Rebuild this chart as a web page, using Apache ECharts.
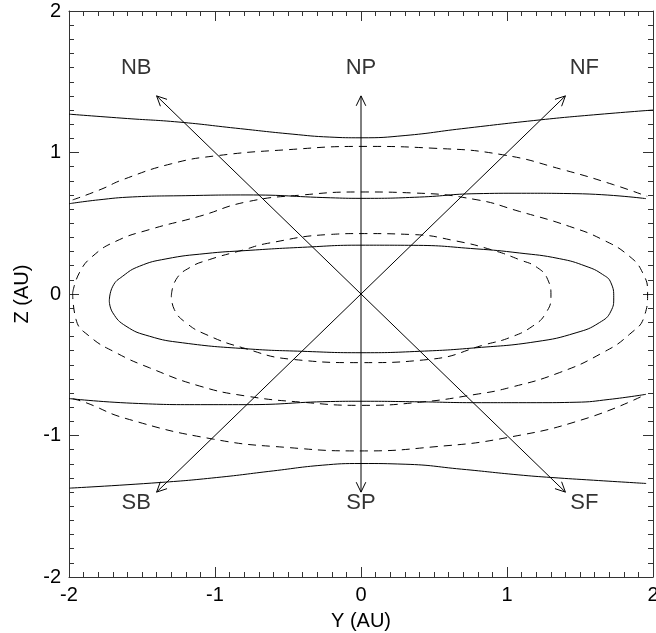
<!DOCTYPE html>
<html>
<head>
<meta charset="utf-8">
<script src="https://cdn.jsdelivr.net/npm/echarts@6/dist/echarts.min.js"></script>
<style>
  html, body { margin: 0; padding: 0; background: #fff; }
  #chart { width: 656px; height: 633px; }
</style>
</head>
<body>
<div id="chart"></div>
<script>
// solid contours [Y, Z] in AU
const topSolid = [[-2, 1.271], [-1.6, 1.24], [-1.247, 1.215], [-0.859, 1.172], [-0.472, 1.13], [-0.214, 1.109],
  [0, 1.104], [0.302, 1.12], [0.689, 1.168], [1.231, 1.231], [1.592, 1.266], [2, 1.30]]
const upperSolid = [[-2, 0.638], [-1.8, 0.665], [-1.564, 0.686], [-1.2, 0.695], [-0.788, 0.70], [-0.21, 0.68],
  [0, 0.676], [0.4, 0.685], [0.788, 0.709], [1.1, 0.712], [1.473, 0.709], [1.952, 0.674]]
const innerSolid = [[-1.724, -0.05], [-1.70, 0.055], [-1.632, 0.126], [-1.518, 0.196], [-1.336, 0.248],
  [-1.062, 0.286], [-0.788, 0.307], [-0.40, 0.33], [0, 0.345], [0.357, 0.344], [0.788, 0.319], [1.084, 0.29],
  [1.358, 0.25], [1.541, 0.196], [1.655, 0.138], [1.712, 0.079], [1.731, -0.027], [1.712, -0.121],
  [1.632, -0.203], [1.473, -0.274], [1.199, -0.337], [0.788, -0.38], [0.4, -0.405], [0, -0.415],
  [-0.4, -0.405], [-0.788, -0.387], [-1.221, -0.345], [-1.45, -0.298], [-1.61, -0.227], [-1.70, -0.133],
  [-1.724, -0.05]]
const lowerSolid = [[-2, -0.739], [-1.564, -0.772], [-1.1, -0.782], [-0.788, -0.782], [-0.21, -0.76], [0, -0.758],
  [0.4, -0.762], [0.788, -0.768], [1.2, -0.768], [1.473, -0.765], [1.7, -0.745], [1.952, -0.709]]
const bottomSolid = [[-1.995, -1.372], [-1.375, -1.332], [-0.988, -1.297], [-0.601, -1.25], [-0.266, -1.21],
  [0, -1.198], [0.302, -1.203], [0.689, -1.238], [1.076, -1.278], [1.308, -1.297], [1.592, -1.316],
  [1.953, -1.339]]

// dashed contours
const outerDashTop = [[-1.975, 0.665], [-1.78, 0.74], [-1.632, 0.808], [-1.3, 0.92], [-0.99, 0.977], [-0.5, 1.02],
  [0, 1.043], [0.5, 1.03], [0.97, 0.984], [1.385, 0.878], [1.728, 0.773], [1.96, 0.69]]
const outerDashBottom = [[-1.975, -0.74], [-1.884, -0.768], [-1.61, -0.88], [-1.01, -1.026], [-0.5, -1.085],
  [0, -1.109], [0.5, -1.08], [1.0, -1.015], [1.541, -0.88], [1.952, -0.709]]
const midDash = [[-1.975, 0.008], [-1.929, 0.15], [-1.838, 0.267], [-1.678, 0.373], [-1.45, 0.455],
  [-1.107, 0.549], [-0.788, 0.65], [-0.40, 0.70], [0, 0.721], [0.357, 0.714], [0.788, 0.667], [1.084, 0.584],
  [1.427, 0.478], [1.655, 0.384], [1.838, 0.267], [1.929, 0.15], [1.963, 0.008], [1.941, -0.156],
  [1.838, -0.286], [1.655, -0.415], [1.358, -0.556], [1.016, -0.662], [0.788, -0.709], [0.4, -0.765],
  [0, -0.787], [-0.4, -0.765], [-0.788, -0.721], [-1.107, -0.65], [-1.45, -0.521], [-1.678, -0.415],
  [-1.861, -0.298], [-1.952, -0.18], [-1.975, 0.008]]
const innerDash = [[-1.299, -0.015], [-1.267, 0.102], [-1.176, 0.185], [-1.039, 0.243], [-0.81, 0.31],
  [-0.64, 0.358], [-0.21, 0.421], [0, 0.427], [0.357, 0.42], [0.65, 0.375], [0.902, 0.31], [1.084, 0.243],
  [1.21, 0.185], [1.279, 0.102], [1.301, -0.015], [1.267, -0.133], [1.176, -0.227], [1.016, -0.309],
  [0.856, -0.356], [0.47, -0.462], [0, -0.485], [-0.47, -0.462], [-0.81, -0.38], [-1.062, -0.286],
  [-1.199, -0.203], [-1.279, -0.109], [-1.299, -0.015]]

// direction arrows from the origin
const arrowOrigin = [0, 0]
const arrowTips = [[-1.4, 1.4], [0, 1.4], [1.4, 1.4], [-1.4, -1.4], [0, -1.4], [1.4, -1.4]]
const dirNames = ['NB', 'NP', 'NF', 'SB', 'SP', 'SF']
const dirLabelSpots = [[-1.54, 1.6], [0, 1.6], [1.53, 1.6], [-1.54, -1.48], [0, -1.48], [1.53, -1.48]]

const font = "'Liberation Sans', Arial, sans-serif"

function axisCommon(pos, showLabel) {
  return {
    type: 'value',
    position: pos,
    min: -2,
    max: 2,
    interval: 1,
    axisLine: { show: true, onZero: false, lineStyle: { color: '#333', width: 1 } },
    axisTick: { show: true, inside: true, length: 10, lineStyle: { color: '#333' } },
    minorTick: { show: true, splitNumber: 10, length: 5, lineStyle: { color: '#333' } },
    splitLine: { show: false },
    minorSplitLine: { show: false },
    axisLabel: { show: showLabel, color: '#000', fontSize: 20, fontFamily: font, margin: 8 }
  }
}

function curve(data, dashed) {
  return {
    type: 'line',
    data: data,
    smooth: 0.5,
    showSymbol: false,
    symbol: 'none',
    silent: true,
    lineStyle: { color: '#000', width: 1, type: dashed ? [8, 6] : 'solid' }
  }
}

const chart = echarts.init(document.getElementById('chart'))
chart.setOption({
  animation: false,
  backgroundColor: '#fff',
  grid: { left: 69, right: 3, top: 11, bottom: 56, outerBoundsMode: 'none' },
  xAxis: [
    Object.assign(axisCommon('bottom', true), {
      name: 'Y (AU)', nameLocation: 'middle', nameGap: 34,
      nameTextStyle: { color: '#000', fontSize: 20, fontFamily: font }
    }),
    axisCommon('top', false)
  ],
  yAxis: [
    Object.assign(axisCommon('left', true), {
      name: 'Z (AU)', nameLocation: 'middle', nameGap: 33,
      nameTextStyle: { color: '#000', fontSize: 20, fontFamily: font }
    }),
    axisCommon('right', false)
  ],
  series: [
    curve(topSolid, false),
    curve(upperSolid, false),
    curve(innerSolid, false),
    curve(lowerSolid, false),
    curve(bottomSolid, false),
    curve(outerDashTop, true),
    curve(outerDashBottom, true),
    curve(midDash, true),
    curve(innerDash, true),
    {
      type: 'custom',
      data: arrowTips,
      encode: { x: 0, y: 1 },
      silent: true,
      renderItem: function (params, api) {
        const p0 = api.coord(arrowOrigin)
        const p1 = api.coord([api.value(0), api.value(1)])
        const ang = Math.atan2(p1[1] - p0[1], p1[0] - p0[0])
        const len = 11, spread = 0.45
        const w1 = [p1[0] - len * Math.cos(ang - spread), p1[1] - len * Math.sin(ang - spread)]
        const w2 = [p1[0] - len * Math.cos(ang + spread), p1[1] - len * Math.sin(ang + spread)]
        return {
          type: 'group',
          children: [
            { type: 'line', shape: { x1: p0[0], y1: p0[1], x2: p1[0], y2: p1[1] },
              style: { stroke: '#000', lineWidth: 1 } },
            { type: 'polyline', shape: { points: [w1, p1, w2] },
              style: { stroke: '#000', fill: null, lineWidth: 1 } }
          ]
        }
      }
    },
    {
      type: 'scatter',
      symbolSize: 1,
      itemStyle: { color: 'rgba(0,0,0,0)' },
      silent: true,
      data: dirNames.map((n, i) => ({ name: n, value: dirLabelSpots[i] })),
      label: {
        show: true, position: 'inside', formatter: '{b}',
        color: '#000', fontSize: 22, fontFamily: font
      }
    }
  ]
})
</script>
</body>
</html>
